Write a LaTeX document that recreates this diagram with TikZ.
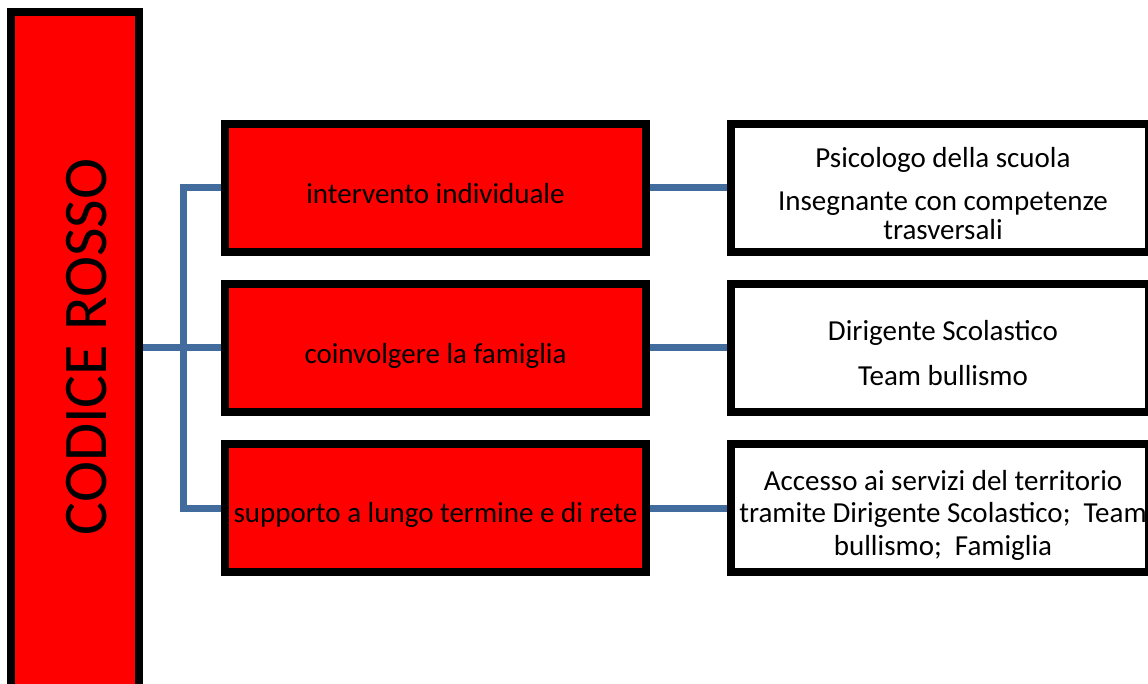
\documentclass[tikz,border=0pt]{standalone}
\usepackage{fontspec}
\setmainfont{Carlito}
\usetikzlibrary{calc,backgrounds}
\definecolor{connblue}{RGB}{66,108,158}
\definecolor{rosso}{RGB}{255,0,0}
\begin{document}
\begin{tikzpicture}[x=1pt,y=-1pt,
  redbox/.style={draw=black,fill=rosso,line width=8pt,inner sep=0,minimum width=421pt,minimum height=128pt},
  whitebox/.style={draw=black,fill=white,line width=8pt,inner sep=0,minimum width=418pt,minimum height=128pt},
  bigbox/.style={draw=black,fill=rosso,line width=8pt,inner sep=0,minimum width=128pt,minimum height=700pt},
  connline/.style={draw=connblue,line width=7pt,line join=miter,line cap=butt},
  midtext/.style={font=\fontsize{29}{30}\selectfont,inner sep=0,anchor=base},
  righttext/.style={font=\fontsize{29}{30}\selectfont,inner sep=0,anchor=base,align=center}]
\useasboundingbox (0,0) rectangle (1148,684);
\begin{scope}
\clip (0,0) rectangle (1148,684);
\node[bigbox] (big) at (75,362) {};
\node[rotate=90,font=\fontsize{62}{70}\selectfont,inner sep=0] (title) at (87,347) {CODICE ROSSO};

\node[redbox] (m1) at (435.5,188) {};
\node[redbox] (m2) at (435.5,348) {};
\node[redbox] (m3) at (435.5,508) {};

\node[whitebox] (r1) at (939.5,188) {};
\node[whitebox] (r2) at (939.5,348) {};
\node[whitebox] (r3) at (939.5,508) {};

\node[midtext] (t1) at (435.5,204) {intervento individuale};
\node[midtext] (t2) at (435.5,363) {coinvolgere la famiglia};
\node[midtext] (t3) at (435.5,522) {supporto a lungo termine e di rete};

\node[righttext,font=\fontsize{29}{29}\selectfont] (u1) at (943,240) {Psicologo della scuola\\[14pt]Insegnante con competenze\\trasversali};
\node[righttext] (u2) at (943,385) {Dirigente Scolastico\\[15pt]Team bullismo};
\node[righttext,font=\fontsize{29}{32.5}\selectfont] (u3) at (943,555) {Accesso ai servizi del territorio\\tramite Dirigente Scolastico;\ \ Team\\bullismo;\ \ Famiglia};
\end{scope}

\coordinate (trunk) at (183,0);
\begin{scope}[on background layer]
\draw[connline] (big.east |- m2.west) -- (m2.west);
\draw[connline] (m1.west) -- (trunk |- m1.west) -- (trunk |- m3.west) -- (m3.west);
\draw[connline] (m1.east) -- (r1.west);
\draw[connline] (m2.east) -- (r2.west);
\draw[connline] (m3.east) -- (r3.west);
\end{scope}
\end{tikzpicture}
\end{document}
